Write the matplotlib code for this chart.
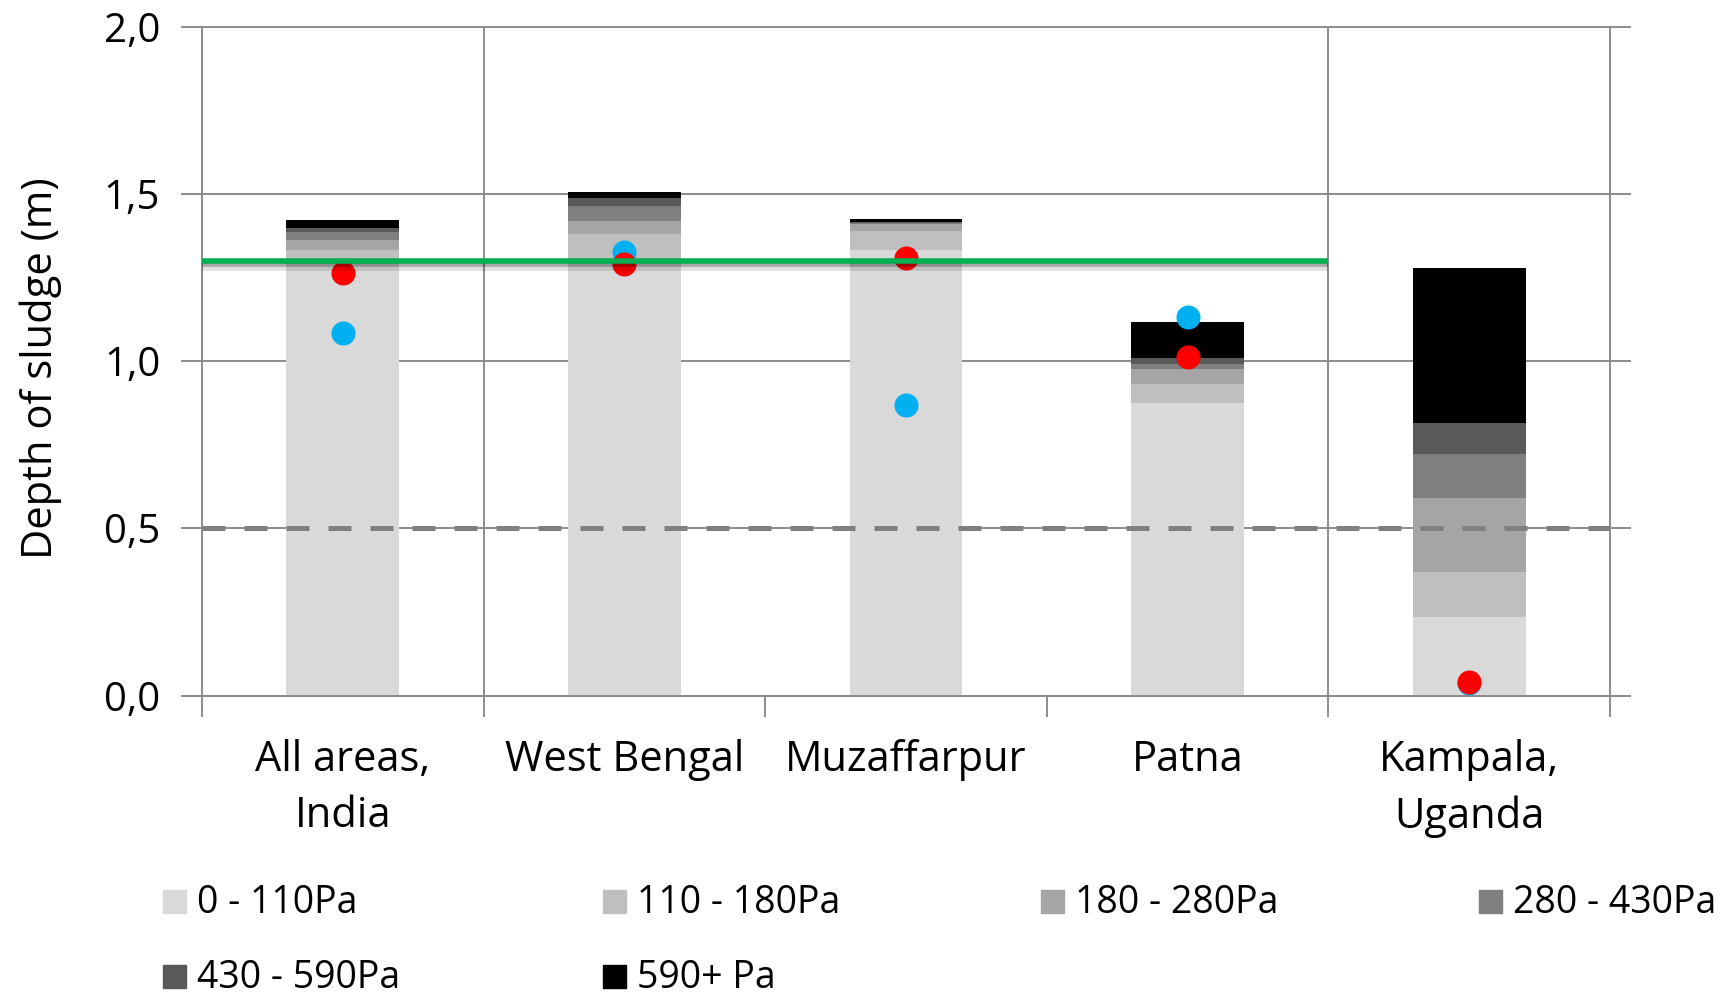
import numpy as np
import matplotlib.pyplot as plt
import matplotlib.patheffects as pe
from matplotlib.patches import Rectangle

plt.rcParams['font.family'] = ['Open Sans', 'DejaVu Sans']

# dati
categories = ['All areas,\nIndia', 'West Bengal', 'Muzaffarpur', 'Patna', 'Kampala,\nUganda']
layer_labels = ['0 - 110Pa', '110 - 180Pa', '180 - 280Pa', '280 - 430Pa', '430 - 590Pa', '590+ Pa']
layer_colors = ['#d9d9d9', '#bfbfbf', '#a5a5a5', '#7f7f7f', '#595959', '#000000']

pa_0_110 = [1.290, 1.300, 1.332, 0.875, 0.234]
pa_110_180 = [0.042, 0.080, 0.057, 0.056, 0.135]
pa_180_280 = [0.030, 0.038, 0.020, 0.045, 0.221]
pa_280_430 = [0.025, 0.045, 0.004, 0.015, 0.132]
pa_430_590 = [0.010, 0.024, 0.003, 0.019, 0.092]
pa_590 = [0.025, 0.019, 0.008, 0.106, 0.463]
layers = [pa_0_110, pa_110_180, pa_180_280, pa_280_430, pa_430_590, pa_590]

blue_pts = [1.083, 1.325, 0.868, 1.131, 0.037]
red_pts = [1.263, 1.289, 1.307, 1.013, 0.041]

green_level = 1.3
dashed_level = 0.5

y_ticks = [0.0, 0.5, 1.0, 1.5, 2.0]
y_ticklabels = ['0,0', '0,5', '1,0', '1,5', '2,0']

W, H = 1731, 994
fig = plt.figure(figsize=(W / 100, H / 100), dpi=100)
ax = fig.add_axes([202 / W, 1 - 695.5 / H, 1408 / W, 669 / H])

x = np.arange(len(categories))
bottom = np.zeros(len(categories))
for vals, col, lab in zip(layers, layer_colors, layer_labels):
    ax.bar(x, vals, 0.4, bottom=bottom, color=col, label=lab, zorder=2)
    bottom += np.array(vals)

ax.scatter(x, blue_pts, s=300, color='#00b0f0', linewidths=0, zorder=3)
ax.scatter(x, red_pts, s=300, color='#ff0000', linewidths=0, zorder=4)

ax.axhline(dashed_level, color='#808080', lw=3.6, ls=(0, (4.6, 3.8)), zorder=4)
ax.hlines(green_level, -0.5, 3.5, color='#00b050', lw=4, zorder=5,
          path_effects=[pe.SimpleLineShadow(offset=(0, -4), shadow_color='k', alpha=0.12, linewidth=7),
                        pe.SimpleLineShadow(offset=(0, -2.5), shadow_color='k', alpha=0.25),
                        pe.Normal()])

# griglia e separatori
grid_col = '#8c8c8c'
ax.set_axisbelow(True)
ax.yaxis.grid(True, color=grid_col, lw=1.4)
ax.axvline(0.5, color=grid_col, lw=1.4, zorder=1)
ax.axvline(3.5, color=grid_col, lw=1.4, zorder=1)
for s in ax.spines.values():
    s.set_color(grid_col)
    s.set_linewidth(1.4)

ax.set_xlim(-0.5, 4.5)
ax.set_ylim(0, 2)
ax.set_yticks(y_ticks)
ax.set_yticklabels(y_ticklabels)
ax.set_xticks(x)
ax.set_xticklabels(categories, linespacing=1.45)
ax.set_xticks(np.arange(-0.5, 5, 1), minor=True)

ax.tick_params(axis='y', direction='out', length=15, width=1.4, color=grid_col,
               right=True, labelsize=29, pad=15)
ax.tick_params(axis='x', which='major', length=0, labelsize=30, pad=31)
ax.tick_params(axis='x', which='minor', direction='out', length=15, width=1.4, color=grid_col)

ax.set_ylabel('Depth of sludge (m)', fontsize=30)
ax.yaxis.set_label_coords((62 - 202) / 1408, 0.49)

# legenda su due righe, quattro colonne
col_x = [163, 603, 1041, 1479]
row_y = [913, 988]
for i, (lab, col) in enumerate(zip(layer_labels, layer_colors)):
    cx = col_x[i % 4]
    cy = row_y[i // 4]
    fig.patches.append(Rectangle((cx / W, 1 - cy / H), 23 / W, 23 / H, color=col,
                                 transform=fig.transFigure))
    fig.text((cx + 34) / W, 1 - cy / H, lab, fontsize=27, va='baseline', ha='left')

fig.savefig('out.png', dpi=100)
